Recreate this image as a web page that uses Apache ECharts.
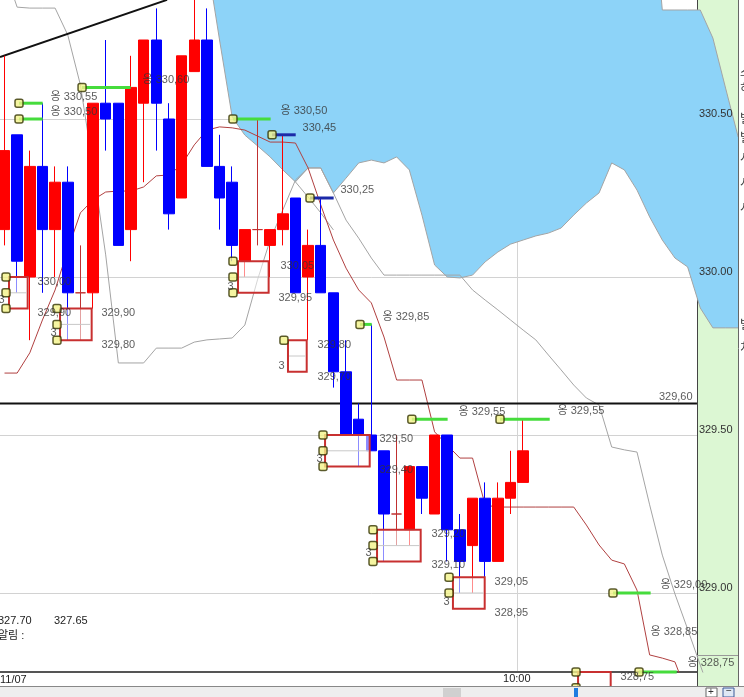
<!DOCTYPE html>
<html><head><meta charset="utf-8">
<script src="https://cdn.jsdelivr.net/npm/echarts@6/dist/echarts.min.js"></script>
<style>html,body{margin:0;padding:0;background:#fff;overflow:hidden}#c{width:744px;height:697px}</style>
</head><body><div id="c"></div>
<script>
// ---------- DATA ----------
// 59 time slots (index), candles occupy slots 0..41
const slots = ['0','1','2','3','4','5','6','7','8','9','10','11','12','13','14','15','16','17','18','19','20','21','22','23','24','25','26','27','28','29','30','31','32','33','34','35','36','37','38','39','40','41','42','43','44','45','46','47','48','49','50','51','52','53','54','55','56','57','58'];
const opens  = [330.15,330.45,330.00,330.35,330.15,330.30,329.95,329.95,330.55,330.55,330.15,330.55,330.75,330.50,330.25,330.65,330.75,330.35,330.30,330.05,330.15,330.10,330.15,330.25,330.00,330.10,329.95,329.70,329.55,329.50,329.45,329.25,329.20,329.40,329.25,329.50,329.20,329.15,329.30,329.10,329.30,329.35];
const closes = [330.40,330.05,330.35,330.15,330.30,329.95,329.95,330.55,330.50,330.10,330.60,330.75,330.55,330.20,330.70,330.75,330.35,330.25,330.10,330.15,330.15,330.15,330.20,329.95,330.10,329.95,329.70,329.50,329.50,329.45,329.25,329.25,329.40,329.30,329.50,329.20,329.10,329.30,329.10,329.30,329.35,329.45];
const lows   = [330.10,329.95,329.80,329.95,330.00,329.80,329.80,329.90,330.40,330.10,330.05,330.30,330.40,330.15,330.25,330.65,330.35,330.15,330.05,330.00,330.10,330.00,330.10,329.95,329.80,329.95,329.65,329.50,329.40,329.45,329.10,329.15,329.15,329.25,329.25,329.10,329.00,329.00,329.05,329.10,329.25,329.35];
const highs  = [330.70,330.45,330.40,330.55,330.35,330.35,330.10,330.55,330.75,330.55,330.70,330.75,330.85,330.55,330.70,330.90,330.85,330.45,330.35,330.15,330.50,330.15,330.45,330.25,330.15,330.25,329.95,329.80,329.60,329.85,329.45,329.50,329.40,329.40,329.50,329.50,329.25,329.30,329.35,329.35,329.45,329.55];

// red conversion line (slots 0..54)
const convLine = [329.696,329.696,329.760,329.864,329.959,330.086,330.203,330.244,330.269,330.272,330.272,330.285,330.320,330.323,330.355,330.418,330.465,330.475,330.472,330.465,330.446,330.427,330.427,330.424,330.345,330.228,330.117,330.028,329.959,329.918,329.810,329.674,329.674,329.674,329.510,329.468,329.427,329.427,329.278,329.272,329.272,329.272,329.272,329.272,329.272,329.272,329.215,329.152,329.104,329.092,329.009,328.804,328.794,328.782,328.677];

// cloud lower / upper edge (slots 0..58)
const cloudBottom = [null,null,null,null,null,null,null,null,null,null,null,null,null,null,null,null,331.003,330.750,330.506,330.449,330.415,330.380,330.339,330.301,330.345,330.345,330.266,330.313,330.361,330.370,330.361,330.380,330.339,330.196,330.038,330.000,329.997,330.006,330.048,330.079,330.104,330.117,330.130,330.139,330.155,330.196,330.234,330.266,330.361,330.339,330.275,330.190,330.117,330.060,330.032,329.902,329.839,329.839,329.839];
const cloudTop = [null,null,null,null,null,null,null,null,null,null,null,null,null,null,null,null,331.3,331.3,331.3,331.3,331.3,331.3,331.3,331.3,331.3,331.3,331.3,331.3,331.3,331.3,331.3,331.3,331.3,331.3,331.3,331.3,331.3,331.3,331.3,331.3,331.3,331.3,331.3,331.3,331.3,331.3,331.3,331.3,331.3,331.3,331.3,331.3,330.845,330.845,330.845,330.845,330.756,330.598,330.443];

// gray span lines
const spanLineA = [330.971,330.854,330.851,330.851,330.851,330.766,330.608,330.348,330.070,329.728,329.728,329.728,329.775,329.775,329.775,329.794,329.801,329.804,329.807,329.848,329.991,330.117,330.212,330.307,330.345,330.345,330.266,330.180,330.123,330.060,330.006,330.006,330.006,330.006,330.006,330.006,330.006,329.959,329.927,329.896,329.864,329.832,329.801,329.753,329.706,329.658,329.617,329.595,329.462,329.453,329.446,329.279,329.120,328.997,328.886,328.772,328.660,null,null];
const spanLineB = [null,null,null,null,null,null,null,null,null,null,null,null,null,null,null,null,null,null,null,null,null,null,null,330.301,330.253,330.203,330.149,null,null,null,null,null,null,null,null,null,null,null,null,null,null,null,null,null,null,null,null,null,null,null,null,null,null,null,null,null,null,null,null];

// trend line and level line: [slot position, price]
const trendLine = [[-0.356,330.696],[12.85,330.877]];
const levelLine = [[-0.356,329.60],[54.74,329.60]];
const levelLabel = [[54.43,329.620,'329,60']];

// alert lines: [from, to, price, kind 0=green 1=blue]
const alertLines = [[1.146,3.518,330.55,0],[1.146,3.518,330.50,0],[6.13,10.47,330.60,0],[18.06,21.54,330.50,0],[21.15,23.52,330.45,1],[24.15,26.52,330.25,1],[28.1,29.53,329.85,0],[32.2,35.53,329.55,0],[39.17,43.6,329.55,0],[48.1,51.58,329.00,0],[50.16,53.64,328.75,0]];
const alertMarks = [[1.146,330.55],[1.146,330.50],[6.13,330.60],[18.06,330.50],[21.15,330.45],[24.15,330.25],[28.1,329.85],[32.2,329.55],[39.17,329.55],[48.1,329.00],[50.16,328.75]];
const alertTexts = [[3.597,330.570,'옹 330,55'],[3.597,330.522,'옹 330,50'],[10.87,330.624,'옹 330,60'],[21.78,330.525,'옹 330,50'],[23.52,330.472,'330,45'],[26.52,330.275,'330,25'],[29.84,329.873,'옹 329,85'],[35.85,329.573,'옹 329,55'],[43.68,329.576,'옹 329,55'],[51.82,329.025,'옹 329,00'],[51.03,328.877,'옹 328,85'],[53.95,328.778,'옹 328,75']];

// volume boxes: [from, to, top price, mid price, bottom price]
const boxes = [[0.356,2.332,330.00,329.95,329.90],[4.39,7.39,329.90,329.85,329.80],[18.46,21.38,330.05,330.00,329.95],[22.41,24.39,329.80,329.75,329.70],[25.34,29.37,329.50,329.45,329.40],[29.45,33.40,329.20,329.15,329.10],[35.45,38.46,329.05,329.00,328.95],[45.34,48.42,328.75,328.70,328.65]];
const boxMarks = [[0.119,330.00],[0.119,329.95],[0.119,329.90],[4.15,329.90],[4.15,329.85],[4.15,329.80],[18.06,330.05],[18.06,330.00],[18.06,329.95],[22.09,329.80],[25.18,329.50],[25.18,329.45],[25.18,329.40],[29.13,329.20],[29.13,329.15],[29.13,329.10],[35.14,329.05],[35.14,329.00],[45.18,328.75],[45.18,328.70]];
const boxTexts = [[2.569,329.984,'330,00'],[2.569,329.886,'329,90'],[7.628,329.886,'329,90'],[7.628,329.785,'329,80'],[21.78,330.035,'330,05'],[21.62,329.934,'329,95'],[24.70,329.785,'329,80'],[24.70,329.684,'329,70'],[29.60,329.487,'329,50'],[29.60,329.389,'329,40'],[33.71,329.187,'329,20'],[33.71,329.089,'329,10'],[38.70,329.035,'329,05'],[38.70,328.937,'328,95'],[48.66,328.734,'328,75'],[-0.51,329.927,'3'],[3.597,329.823,'3'],[17.59,329.968,'3'],[21.62,329.718,'3'],[24.62,329.424,'3'],[28.50,329.126,'3'],[34.66,328.971,'3']];

// clipped text of the neighbouring panel at the right edge: [y, text]
const edgeTexts = [[68,'스'],[84,'히'],[114,'빌'],[133,'빌'],[153,'시'],[178,'시'],[203,'시'],[320,'빌'],[343,'치']];

// ---------- CHART ----------
const FONT = '"Liberation Sans","Noto Sans CJK KR",sans-serif';
const chart = echarts.init(document.getElementById('c'), null, {renderer:'canvas'});
const P = a => a.map(d => [d[0] + 0.5].concat(d.slice(1)));   // slot index -> value-axis position
const candleData = opens.map((o, i) => [o, closes[i], lows[i], highs[i]]);
const cloudBand = cloudTop.map((t, i) => t == null ? null : +(t - cloudBottom[i]).toFixed(4));
const gray = '#a4a4a4';
const yMin = 328.75, yMax = 330.8766;
const clear = 'rgba(0,0,0,0)';

const graphics = [
  { type: 'rect', shape: { x: 697, y: 0, width: 41, height: 686 }, style: { fill: '#dcf7d3' }, z: 1, silent: true },
  { type: 'line', shape: { x1: 697.5, y1: 0, x2: 697.5, y2: 686 }, style: { stroke: '#444', lineWidth: 1 }, z: 1, silent: true },
  { type: 'line', shape: { x1: 697, y1: 655.5, x2: 738, y2: 655.5 }, style: { stroke: '#999', lineWidth: 1 }, z: 1, silent: true },
  { type: 'rect', shape: { x: 738, y: 0, width: 6, height: 697 }, style: { fill: '#fff' }, z: 20, silent: true },
  { type: 'line', shape: { x1: 738.5, y1: 0, x2: 738.5, y2: 697 }, style: { stroke: '#666', lineWidth: 1 }, z: 20, silent: true },
  { type: 'line', shape: { x1: 0, y1: 686.5, x2: 744, y2: 686.5 }, style: { stroke: '#888', lineWidth: 1 }, z: 20, silent: true },
  { type: 'rect', shape: { x: 0, y: 687, width: 744, height: 10 }, style: { fill: '#eeeeee' }, z: 20, silent: true },
  { type: 'rect', shape: { x: 443, y: 688, width: 18, height: 9 }, style: { fill: '#d0d0d0' }, z: 21, silent: true },
  { type: 'rect', shape: { x: 574, y: 688, width: 4, height: 9 }, style: { fill: '#1e7de0' }, z: 21, silent: true },
  { type: 'rect', shape: { x: 706, y: 688, width: 11, height: 9 }, style: { fill: '#fff', stroke: '#666', lineWidth: 1 }, z: 21, silent: true },
  { type: 'rect', shape: { x: 723, y: 688, width: 11, height: 9 }, style: { fill: '#dfe8f5', stroke: '#3a5a9a', lineWidth: 1 }, z: 21, silent: true },
  { type: 'text', x: 708, y: 687, style: { text: '+', fontSize: 10, fill: '#333', fontFamily: FONT }, z: 22, silent: true },
  { type: 'text', x: 726, y: 686, style: { text: '−', fontSize: 10, fill: '#333', fontFamily: FONT }, z: 22, silent: true },
  { type: 'text', x: 0, y: 674, style: { text: '11/07', fontSize: 11, fill: '#222', fontFamily: FONT }, z: 22, silent: true },
  { type: 'text', x: -2, y: 615, style: { text: '327.70', fontSize: 11, fill: '#222', fontFamily: FONT }, z: 22, silent: true },
  { type: 'text', x: 54, y: 615, style: { text: '327.65', fontSize: 11, fill: '#222', fontFamily: FONT }, z: 22, silent: true },
  { type: 'text', x: -2, y: 630, style: { text: '알림 :', fontSize: 11, fill: '#222', fontFamily: FONT }, z: 22, silent: true }
].concat(edgeTexts.map(t => ({ type: 'text', x: 740, y: t[0], style: { text: t[1], fontSize: 12, fill: '#333', fontFamily: FONT }, z: 22, silent: true })));

const option = {
  animation: false,
  backgroundColor: '#ffffff',
  grid: { left: -1.825, top: 0, width: 746.35, height: 672, outerBoundsMode: 'none', containLabel: false },
  xAxis: [
    { type: 'category', data: slots, boundaryGap: true, show: false },
    { type: 'value', min: 0, max: 59, interval: 41, position: 'bottom',
      axisLine: { show: true, onZero: false, lineStyle: { color: '#555', width: 2 } },
      axisTick: { show: false },
      axisLabel: { margin: 1, fontSize: 11, color: '#222', fontFamily: FONT, formatter: v => v === 41 ? '10:00' : '' },
      splitLine: { show: true, lineStyle: { color: [clear, '#d4d4d4', clear], width: 1 } } }
  ],
  yAxis: [
    { type: 'value', min: yMin, max: yMax, interval: 0.25, position: 'right',
      axisLine: { show: false }, axisTick: { show: false }, axisLabel: { show: false },
      splitLine: { show: true, showMaxLine: false, lineStyle: { color: [clear, '#d2d2d2'], width: 1 } } },
    { type: 'value', min: yMin, max: yMax, interval: 0.25, position: 'right', z: 8,
      axisLine: { show: false }, axisTick: { show: false }, splitLine: { show: false },
      axisLabel: { inside: true, margin: 12, fontSize: 11, color: '#333', fontFamily: FONT, verticalAlign: 'bottom',
        formatter: v => (Math.abs(v * 2 - Math.round(v * 2)) < 1e-6 && v > 328.9) ? v.toFixed(2) : '' } }
  ],
  series: [
    { name: 'cloudBase', type: 'line', data: cloudBottom, stack: 'cloud', symbol: 'none', z: 2,
      lineStyle: { color: gray, width: 1 } },
    { name: 'cloud', type: 'line', data: cloudBand, stack: 'cloud', symbol: 'none', z: 2,
      lineStyle: { color: gray, width: 1 }, areaStyle: { color: '#8dd3f8', opacity: 1 } },
    { name: 'spanA', type: 'line', data: spanLineA, symbol: 'none', z: 2, lineStyle: { color: gray, width: 1 } },
    { name: 'spanB', type: 'line', data: spanLineB, symbol: 'none', z: 2, lineStyle: { color: gray, width: 1 } },
    { name: 'conv', type: 'line', data: convLine, symbol: 'none', z: 3, lineStyle: { color: '#b04040', width: 1 } },
    { name: 'trend', type: 'line', xAxisIndex: 1, data: P(trendLine), symbol: 'none', z: 3, lineStyle: { color: '#111', width: 2 } },
    { name: 'level', type: 'line', xAxisIndex: 1, data: P(levelLine), symbol: 'none', z: 3, lineStyle: { color: '#111', width: 2 } },
    { name: 'candles', type: 'candlestick', data: candleData, barWidth: 11, z: 4,
      itemStyle: { color: '#ff0000', color0: '#0000ff', borderColor: '#ff0000', borderColor0: '#0000ff', borderColorDoji: '#c03030', borderWidth: 1 } },
    { name: 'boxes', type: 'custom', xAxisIndex: 1, data: P(boxes), z: 5, clip: false,
      encode: { x: [0, 1], y: [2, 4] },
      renderItem: (params, api) => {
        const a = api.coord([api.value(0), api.value(2)]);
        const b = api.coord([api.value(1), api.value(4)]);
        const m = api.coord([api.value(0), api.value(3)]);
        return { type: 'group', children: [
          { type: 'rect', shape: { x: a[0], y: a[1], width: b[0] - a[0], height: b[1] - a[1] },
            style: { fill: 'rgba(255,255,255,0.55)', stroke: '#c83030', lineWidth: 2 } },
          { type: 'line', shape: { x1: a[0] + 1, y1: m[1], x2: b[0] - 1, y2: m[1] }, style: { stroke: '#c8c8c8', lineWidth: 1 } }
        ] };
      } },
    { name: 'alerts', type: 'custom', xAxisIndex: 1, data: P(alertLines), z: 5, clip: false,
      encode: { x: [0, 1], y: 2 },
      renderItem: (params, api) => {
        const a = api.coord([api.value(0), api.value(2)]);
        const b = api.coord([api.value(1), api.value(2)]);
        return { type: 'line', shape: { x1: a[0], y1: a[1], x2: b[0], y2: b[1] },
          style: { stroke: api.value(3) === 1 ? '#1c2aa8' : '#46dc3c', lineWidth: 3 } };
      } },
    { name: 'marks', type: 'scatter', xAxisIndex: 1, data: P(alertMarks.concat(boxMarks)), z: 6, clip: false,
      symbol: 'roundRect', symbolSize: 8, itemStyle: { color: '#f3f28a', borderColor: '#333300', borderWidth: 1.5 } },
    { name: 'texts', type: 'scatter', xAxisIndex: 1, data: P(alertTexts.concat(boxTexts)), z: 7, clip: false,
      symbolSize: 1, itemStyle: { color: clear },
      label: { show: true, position: 'right', distance: 0, fontSize: 11, color: '#333', fontFamily: FONT, formatter: p => p.data[2] } },
    { name: 'levelText', type: 'scatter', xAxisIndex: 1, data: P(levelLabel), z: 7, clip: false,
      symbolSize: 1, itemStyle: { color: clear },
      label: { show: true, position: 'left', distance: 0, fontSize: 11, color: '#333', fontFamily: FONT, formatter: p => p.data[2] } }
  ],
  graphic: graphics
};
chart.setOption(option);
</script>
</body></html>
